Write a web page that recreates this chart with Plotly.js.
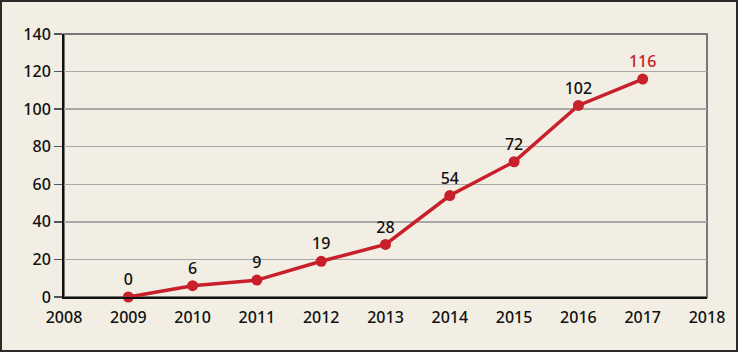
<!DOCTYPE html>
<html><head><meta charset="utf-8">
<script src="https://cdn.plot.ly/plotly-3.0.1.min.js"></script>
<style>
html,body{margin:0;padding:0;background:#f2eee3;}
#wrap{position:relative;width:738px;height:352px;}
#chart{width:738px;height:352px;}
#frame{position:absolute;left:0;top:0;width:738px;height:352px;box-sizing:border-box;border:2px solid #2a2a2a;pointer-events:none;}
</style></head>
<body><div id="wrap"><div id="chart"></div><div id="frame"></div></div>
<script>
const years = [2009, 2010, 2011, 2012, 2013, 2014, 2015, 2016, 2017];
const values = [0, 6, 9, 19, 28, 54, 72, 102, 116];
const labels = ['0','6','9','19','28','54','72','102','116'];
const labelColors = ['#111','#111','#111','#111','#111','#111','#111','#111','#c8202a'];
const xTicks = [2008,2009,2010,2011,2012,2013,2014,2015,2016,2017,2018];
const yTicks = [0,20,40,60,80,100,120,140];

const trace = {
  x: years, y: values, type: 'scatter', mode: 'lines+markers+text',
  text: labels, textposition: 'top center',
  textfont: {family: 'Noto Sans, sans-serif', size: 16, color: labelColors, weight: 500},
  line: {color: '#c8202a', width: 3.5},
  marker: {color: '#c8202a', size: 11},
  cliponaxis: false, hoverinfo: 'none'
};
const layout = {
  width: 738, height: 352,
  margin: {l: 64, r: 31, t: 34, b: 55},
  paper_bgcolor: '#f2eee3', plot_bgcolor: '#f2eee3',
  showlegend: false,
  font: {family: 'Noto Sans, sans-serif', size: 16, color: '#111', weight: 500},
  xaxis: {range: [2008, 2018], tickvals: xTicks, ticktext: xTicks.map(String),
    showgrid: false, zeroline: false, showline: true, linecolor: '#111', linewidth: 2,
    ticks: '', ticklabelstandoff: 5, fixedrange: true},
  yaxis: {range: [0, 140], tickvals: yTicks, ticktext: yTicks.map(String),
    showgrid: true, gridcolor: '#a8a8a8', gridwidth: 1.5, zeroline: false,
    showline: true, linecolor: '#111', linewidth: 2,
    ticks: 'outside', ticklen: 8, tickcolor: '#555', tickwidth: 1.5, fixedrange: true},
  shapes: [
    {type: 'rect', xref: 'paper', yref: 'paper', x0: 0, x1: 1, y0: 0, y1: 1,
     line: {color: '#777', width: 2}, layer: 'below'}
  ]
};
Plotly.newPlot('chart', [trace], layout, {displayModeBar: false, staticPlot: true});
</script></body></html>
